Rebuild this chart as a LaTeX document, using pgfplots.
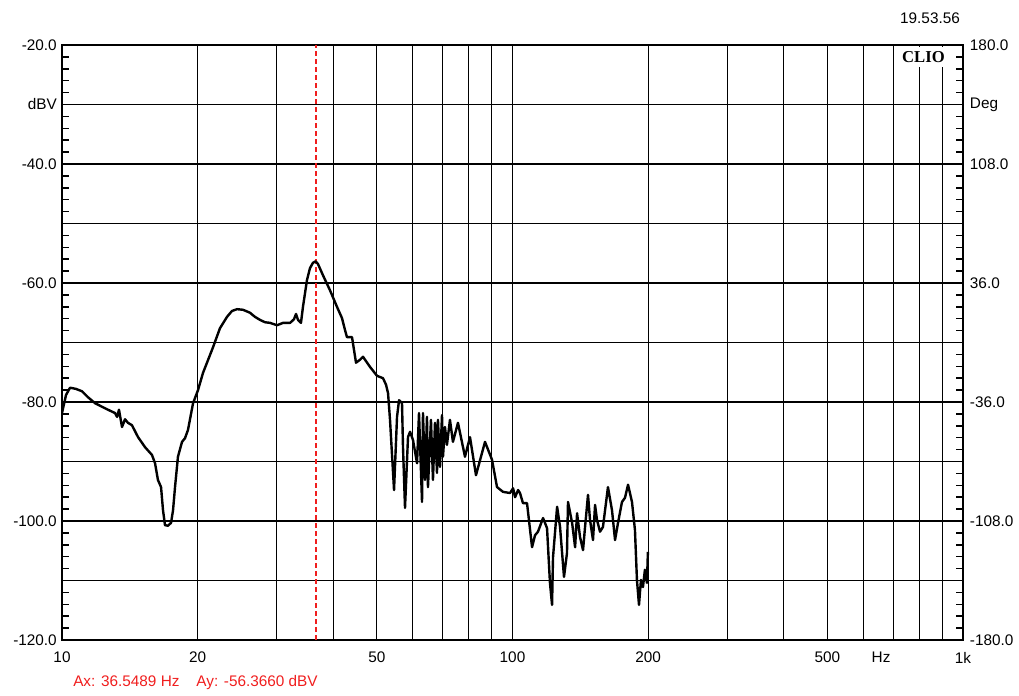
\documentclass[border=0pt]{standalone}
\usepackage{fontspec}
\setmainfont{Liberation Sans}
\usepackage{pgfplots}
\pgfplotsset{compat=1.18}
\usepackage{pgfplotstable}

% magnitude response, dBV vs Hz
\pgfplotstableread{
f dB
10.00 -81.85
10.21 -78.8
10.42 -77.6
10.74 -77.8
11.08 -78.2
11.42 -79.2
11.84 -80.2
12.27 -80.8
12.65 -81.3
13.11 -81.85
13.25 -82.5
13.38 -81.3
13.59 -84.2
13.80 -82.9
14.01 -83.5
14.30 -83.9
14.75 -85.9
15.29 -87.6
15.84 -88.9
16.09 -90.3
16.33 -93.1
16.59 -94.3
16.76 -98.2
16.93 -100.7
17.19 -100.8
17.46 -100.3
17.64 -98.2
17.82 -94.3
18.09 -89.2
18.47 -86.7
18.75 -86.1
19.04 -84.7
19.54 -80.2
20.04 -78.0
20.56 -75.1
21.64 -70.8
22.42 -67.6
23.24 -65.7
23.84 -64.7
24.46 -64.4
25.22 -64.5
26.14 -65.0
26.82 -65.7
27.51 -66.2
28.23 -66.6
28.96 -66.7
30.01 -67.1
30.95 -66.7
32.08 -66.7
32.73 -66.1
33.07 -65.2
33.41 -66.2
33.92 -66.7
34.27 -64.0
34.98 -59.5
35.52 -57.5
36.07 -56.6
36.5489 -56.366
37.00 -56.8
37.96 -58.7
39.34 -61.2
40.77 -64.0
41.83 -65.9
42.48 -67.9
42.91 -69.1
44.03 -69.1
44.94 -73.4
45.86 -72.9
46.57 -72.4
48.27 -74.1
50.03 -75.6
51.59 -76.0
52.39 -77.1
52.93 -78.5
53.47 -83.0
54.58 -94.8
55.42 -82.5
55.99 -79.7
56.85 -80.2
57.14 -87.6
57.73 -97.8
58.62 -85.9
59.23 -85.0
60.14 -86.4
61.39 -90.3
62.01 -81.85
62.97 -96.8
63.29 -81.85
63.94 -93.1
64.59 -82.5
64.92 -94.3
65.92 -83.0
66.60 -93.1
67.29 -83.5
67.98 -91.9
68.32 -83.0
69.03 -90.9
69.74 -82.2
70.10 -89.2
70.81 -84.2
71.54 -87.2
72.64 -83.0
73.76 -86.7
75.68 -83.5
78.44 -89.2
80.47 -85.9
82.97 -92.3
86.89 -86.7
90.05 -89.7
92.39 -94.3
95.26 -95.1
98.74 -95.3
100.3 -94.5
101.3 -96.0
102.9 -94.8
103.9 -95.3
105.5 -97.0
107.7 -97.0
110.5 -104.4
112.2 -102.4
113.9 -101.8
116.9 -99.5
119.3 -101.2
121.1 -110.4
122.4 -114.1
123.0 -106.1
125.6 -97.6
127.5 -101.0
130.1 -109.4
132.1 -105.4
132.8 -96.8
135.6 -100.3
137.7 -104.4
139.1 -98.7
141.2 -102.7
143.4 -104.9
144.9 -101.0
147.1 -95.6
148.6 -99.8
150.9 -103.2
152.5 -97.3
154.0 -99.8
156.4 -101.8
158.8 -101.0
162.9 -94.3
166.3 -98.2
168.9 -103.2
171.5 -100.3
175.0 -96.8
177.7 -96.1
180.5 -93.9
184.2 -96.8
187.0 -101.5
188.9 -109.9
190.9 -114.1
192.8 -109.9
194.8 -111.1
196.8 -108.2
198.8 -110.4
199.8 -105.2
}\response

% cursor position
\pgfplotstableread{
f dB
36.5489 -120
36.5489 -20
}\cursorline

\definecolor{cursorred}{RGB}{240,30,30}

\begin{document}
\begin{tikzpicture}
\useasboundingbox (-46.5pt,-41.25pt) rectangle (717.75pt,480pt);
\pgfplotsset{
  every tick label/.append style={font=\fontsize{11.5}{13}\selectfont, inner sep=0pt},
}
\begin{axis}[
  at={(0,0)}, anchor=south west,
  scale only axis, width=675.75pt, height=446.25pt,
  xmode=log, xmin=10, xmax=1000, ymin=-120, ymax=-20,
  axis line style={line width=1.5pt},
  grid=major,
  major grid style={black, line width=0.8pt},
  xtick={10,20,30,40,50,60,70,80,90,100,200,300,400,500,600,700,800,900,1000},
  xticklabels={10,20,,,50,,,,,100,200,,,500,,,,,1k},
  minor xtick={},
  extra x ticks={658},
  extra x tick labels={Hz},
  extra x tick style={grid=none},
  xticklabel style={yshift=-9pt},
  ytick={-120,-110,...,-20},
  yticklabels={-120.0,,-100.0,,-80.0,,-60.0,,-40.0,dBV,-20.0},
  minor ytick={-118,-116,...,-22},
  xtick pos=bottom,
  ytick pos=both, yticklabel pos=left,
  every tick/.style={black, line width=1.1pt},
  tick align=inside,
  major tick length=0pt, minor tick length=5pt,
  yticklabel style={xshift=-3.75pt},
  clip=true,
]
  \addplot[cursorred, line width=1.5pt,
           dash pattern=on 3.5pt off 2.5pt, mark=none, forget plot]
    table[x=f, y=dB] {\cursorline};
  \addplot[draw=black, line width=1.8pt, line join=round, mark=none]
    table[x=f, y=dB] {\response};
\end{axis}
\begin{axis}[
  at={(0,0)}, anchor=south west,
  scale only axis, width=675.75pt, height=446.25pt,
  xmode=log, xmin=10, xmax=1000, ymin=-180, ymax=180,
  hide x axis,
  axis y line*=right,
  axis line style={line width=1.5pt},
  ytick={-180,-108,-36,36,108,144,180},
  yticklabels={-180.0,-108.0,-36.0,36.0,108.0,Deg,180.0},
  ytick style={draw=none},
  yticklabel style={xshift=5pt},
]
\end{axis}
% logo box and annotations
\node[fill=white, inner sep=0pt, minimum width=40pt, minimum height=15pt,
      font=\fontsize{12.5}{13}\selectfont\bfseries\fontspec{Liberation Serif}]
  at (646.1pt,437.25pt) {CLIO};
\node[font=\fontsize{11.5}{13}\selectfont, inner sep=0pt] at (651pt,466.5pt) {19.53.56};
\node[anchor=west, text=cursorred, font=\fontsize{11.5}{13}\selectfont, inner sep=0pt]
  at (8.25pt,-32.25pt) {Ax: 36.5489 Hz\hspace{1.1em}Ay: -56.3660 dBV};
\end{tikzpicture}
\end{document}
